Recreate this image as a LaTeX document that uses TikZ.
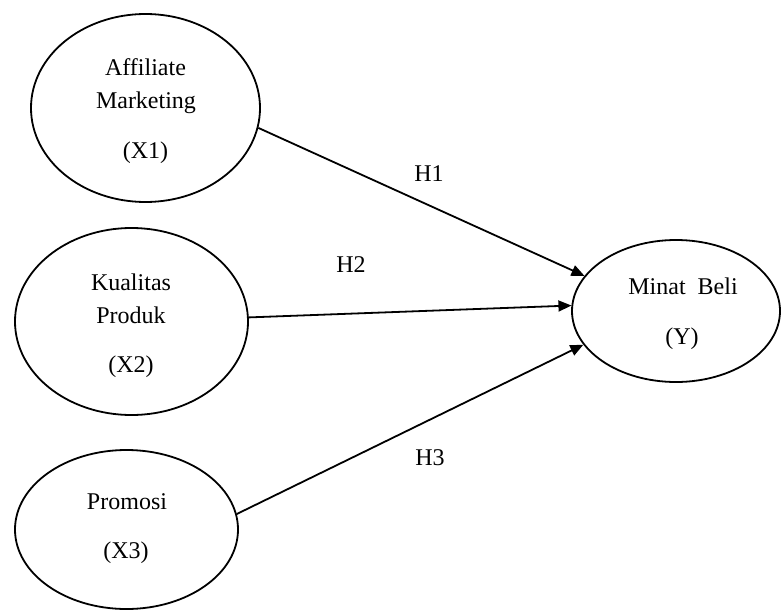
\documentclass[tikz,border=0pt]{standalone}
\usepackage{fontspec}
\setmainfont{Liberation Serif}
\usetikzlibrary{shapes.geometric,arrows.meta}
\begin{document}
\begin{tikzpicture}[x=1pt,y=-1pt,
  var/.style={draw, ellipse, line width=1.8pt, inner sep=0pt},
  txt/.style={anchor=base, inner sep=0pt, font=\fontsize{24}{28}\selectfont},
  arr/.style={line width=1.8pt, -{Triangle[length=13pt,width=11pt]}, shorten >=0pt}]
\useasboundingbox (0,0) rectangle (781,610);
\node[var, minimum width=229pt, minimum height=188pt] (x1) at (145.5,108) {};
\node[var, minimum width=233pt, minimum height=187pt] (x2) at (131.5,321.5) {};
\node[var, minimum width=223pt, minimum height=159pt] (x3) at (126.5,529.5) {};
\node[var, minimum width=208pt, minimum height=142pt] (y) at (676,311) {};
\node[txt] (x1a) at (145.5,75) {Affiliate};
\node[txt] (x1b) at (146,108) {Marketing};
\node[txt] (x1c) at (145.5,158) {(X1)};
\node[txt] (x2a) at (131,290) {Kualitas};
\node[txt] (x2b) at (131,323) {Produk};
\node[txt] (x2c) at (131,372) {(X2)};
\node[txt] (x3a) at (127,509) {Promosi};
\node[txt] (x3b) at (126,558) {(X3)};
\node[txt] (ya) at (683,294) {Minat\hspace{0.5em}Beli};
\node[txt] (yb) at (682,344) {(Y)};
\draw[arr] (x1.-10) -- (y.159);
\draw[arr] (x2.2) -- (y.177);
\draw[arr] (x3.8) -- (y.200);
\node[txt] (h1) at (429,181) {H1};
\node[txt] (h2) at (351,272) {H2};
\node[txt] (h3) at (430,465) {H3};
\end{tikzpicture}
\end{document}
